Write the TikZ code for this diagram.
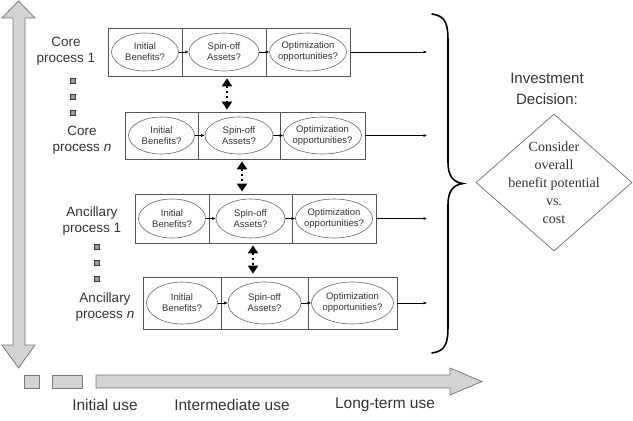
\documentclass[tikz,border=0pt]{standalone}
\usepackage{fontspec}
\setmainfont{Liberation Sans}
\newfontfamily\decserif{Liberation Serif}
\usetikzlibrary{arrows.meta,shapes.geometric,calc}
\definecolor{arrowfill}{HTML}{D3D3D3}
\definecolor{arrowline}{HTML}{7A7A7A}
\definecolor{boxline}{HTML}{555555}
\definecolor{ovalline}{HTML}{666666}
\definecolor{txt}{HTML}{333333}
\newcommand\procrow[7]{%
  \node[cellbox, minimum width={(#3-#2)*1pt}, minimum height={(#7-#6)*1pt}] (#1a) at ({(#2+#3)/2},{(#6+#7)/2}) {};
  \node[cellbox, minimum width={(#4-#3)*1pt}, minimum height={(#7-#6)*1pt}] (#1b) at ({(#3+#4)/2},{(#6+#7)/2}) {};
  \node[cellbox, minimum width={(#5-#4)*1pt}, minimum height={(#7-#6)*1pt}] (#1c) at ({(#4+#5)/2},{(#6+#7)/2}) {};
  \node[ovalbox, minimum width={(#3-#2-7)*1pt}, minimum height={(#7-#6-10)*1pt}] (#1ae) at (#1a.center) {Initial\\Benefits?};
  \node[ovalbox, minimum width={(#4-#3-14)*1pt}, minimum height={(#7-#6-10)*1pt}] (#1be) at (#1b.center) {Spin-off\\Assets?};
  \node[ovalbox, minimum width={(#5-#4-7)*1pt}, minimum height={(#7-#6-10)*1pt}] (#1ce) at (#1c.center) {Optimization\\opportunities?};
  \draw[tinyarrow] (#1ae.east) -- (#1be.west);
  \draw[tinyarrow] (#1be.east) -- (#1ce.west);
  \draw[tinyarrow] (#1c.east) -- (#1c.east -| endx);
}
\begin{document}
\begin{tikzpicture}[x=1pt,y=-1pt,
  cellbox/.style={draw=boxline, line width=0.8pt, rectangle, inner sep=0pt},
  ovalbox/.style={draw=ovalline, line width=0.6pt, ellipse, inner sep=-10pt,
    font=\fontsize{9.5}{11}\selectfont, text=txt, align=center},
  tinyarrow/.style={draw=black, line width=0.5pt, -{Latex[length=3.5pt,width=3pt]}},
  dotarrow/.style={draw=black, line width=2.2pt, dash pattern=on 2.5pt off 2.5pt,
    {Triangle[width=10pt,length=8pt]}-{Triangle[width=10pt,length=8pt]}},
  bigarrow/.style={fill=arrowfill, draw=arrowline, line width=0.8pt, line join=miter},
  dotsq/.style={rectangle, minimum size=5pt, inner sep=0pt, fill=gray!75, draw=gray!45!black, line width=0.4pt},
  rowlabel/.style={font=\fontsize{13.5}{16}\selectfont, text=txt, align=center},
  uselabel/.style={font=\fontsize{15.5}{18}\selectfont, text=txt},
]
\useasboundingbox (0,0) rectangle (633,421);

% vertical double arrow
\path[bigarrow] (18.5,1) -- (35,18) -- (25,18) -- (25,345) -- (35,345) -- (18.5,368)
  -- (2,345) -- (13,345) -- (13,18) -- (2,18) -- cycle;

% horizontal arrow and squares
\path[bigarrow] (96,375) -- (450,375) -- (450,368) -- (482,381.5) -- (450,395)
  -- (450,388) -- (96,388) -- cycle;
\path[bigarrow] (24,375) rectangle (39,388);
\path[bigarrow] (52,375) rectangle (82,388);

\node[uselabel] (u1) at (105,405) {Initial use};
\node[uselabel] (u2) at (232,405) {Intermediate use};
\node[uselabel] (u3) at (385,405) {Long-term use};

\coordinate (endx) at (427,0);

% process rows
\procrow{r1}{108}{182}{266}{350}{28}{76}
\procrow{r2}{125}{198}{280}{365}{112}{159}
\procrow{r3}{135}{209}{292}{376}{194}{243}
\procrow{r4}{143}{221}{308}{397}{277}{329}

% row labels
\node[rowlabel] (l1) at (66,51) {Core\\process 1};
\node[rowlabel] (l2) at (82,140.5) {Core\\process \textit{n}};
\node[rowlabel] (l3) at (92,221) {Ancillary\\process 1};
\node[rowlabel] (l4) at (105,307.5) {Ancillary\\process \textit{n}};

% ellipsis squares
\node[dotsq] (s1) at (73,81) {};
\node[dotsq] (s2) at (73,97) {};
\node[dotsq] (s3) at (73,113) {};
\node[dotsq] (s4) at (97,247) {};
\node[dotsq] (s5) at (97,263) {};
\node[dotsq] (s6) at (97,279) {};

% dotted double arrows
\coordinate (d1) at (227,0);
\coordinate (d2) at (242,0);
\coordinate (d3) at (253,0);
\draw[dotarrow, shorten <=2pt, shorten >=2pt] (d1 |- r1b.south) -- (d1 |- r2b.north);
\draw[dotarrow, shorten <=2pt, shorten >=2pt] (d2 |- r2b.south) -- (d2 |- r3b.north);
\draw[dotarrow, shorten <=2pt, shorten >=3pt] (d3 |- r3b.south) -- (d3 |- r4b.north);

% brace
\draw[line width=1.6pt, line cap=round] (432,14) .. controls (446,16) and (448,24) .. (448,42)
  -- (448,162) .. controls (448,176) and (453,182) .. (463,183.5)
  .. controls (453,185) and (448,191) .. (448,205)
  -- (448,325) .. controls (448,343) and (446,351) .. (432,353);

% decision
\node[font=\fontsize{15}{21}\selectfont, text=txt, align=center] (inv) at (547,88.5) {Investment\\Decision:};
\node[diamond, draw=gray!85!black, line width=0.7pt, minimum width=156pt, minimum height=137pt, inner sep=0pt] (dec) at (554,182.5) {};
\node[font=\decserif\fontsize{14}{18}\selectfont, text=txt, align=center] (dectext) at (dec.center) {Consider\\overall\\benefit potential\\vs.\\cost};
\end{tikzpicture}
\end{document}
